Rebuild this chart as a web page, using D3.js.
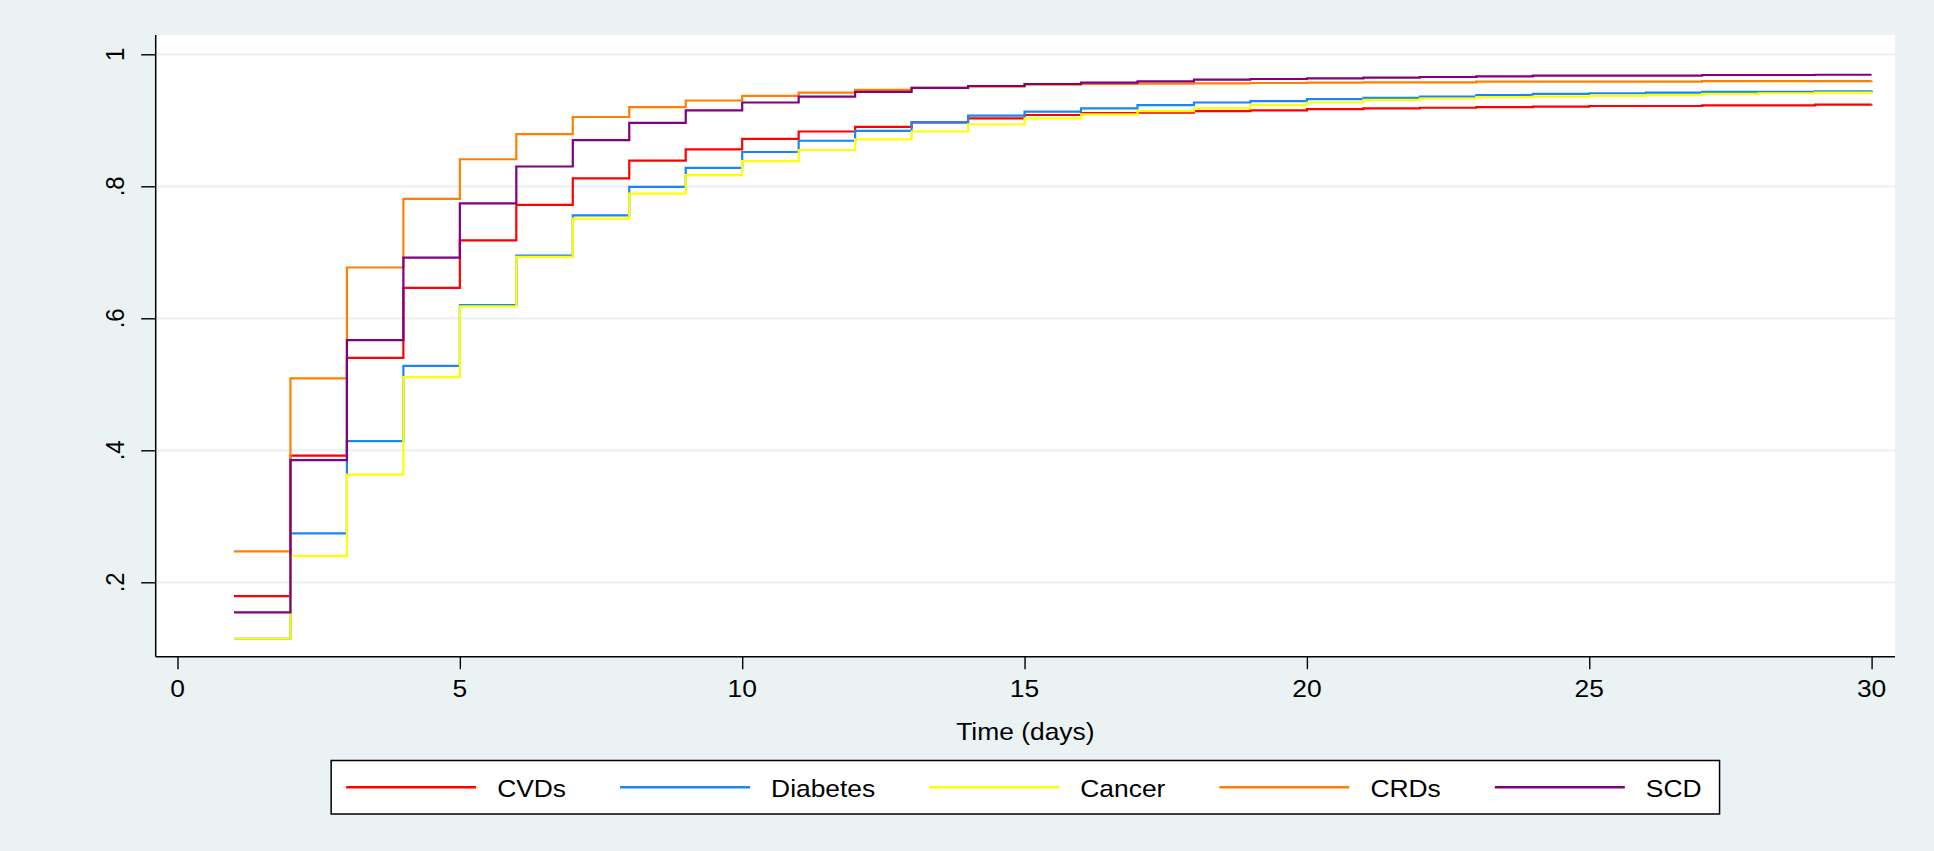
<!DOCTYPE html>
<html>
<head>
<meta charset="utf-8">
<script src="https://cdn.jsdelivr.net/npm/d3@7"></script>
<style>
  body { margin: 0; background: #eaf2f3; }
  text { font-family: "Liberation Sans", Arial, sans-serif; fill: #000; }
</style>
</head>
<body>
<svg id="chart" width="1934" height="851"></svg>
<script>
const days = d3.range(1, 31)
const seriesNames = ['CVDs', 'Diabetes', 'Cancer', 'CRDs', 'SCD']
const seriesColors = ['#ff0000', '#1a86f5', '#ffff00', '#ff8000', '#800080']

const cvds = [.179, .392, .540, .646, .718, .772, .812, .839, .856, .872,
  .883, .890, .897, .903, .908, .911, .9115, .914, .915, .917,
  .918, .919, .920, .9206, .9217, .9217, .9227, .9227, .9237, .924]
const diabetes = [.1145, .274, .414, .528, .620, .695, .756, .799, .828, .852,
  .869, .884, .897, .907, .913, .918, .923, .927, .929, .932,
  .934, .936, .938, .940, .941, .942, .943, .943, .944, .945]
const cancer = [.1145, .240, .363, .511, .618, .693, .751, .789, .817, .838,
  .855, .871, .883, .894, .903, .909, .914, .918, .923, .927,
  .931, .933, .935, .936, .937, .938, .940, .941, .942, .943]
const crds = [.247, .509, .677, .781, .841, .879, .905, .920, .930, .937,
  .942, .946, .949, .951, .954, .955, .9555, .956, .9565, .957,
  .9576, .9576, .9585, .9585, .9585, .9585, .9595, .9595, .9595, .960]
const scd = [.1545, .385, .567, .692, .774, .830, .870, .896, .915, .927,
  .936, .943, .949, .952, .955, .957, .959, .9615, .9626, .9636,
  .9646, .9656, .9667, .9677, .9677, .9677, .9686, .9686, .969, .969]

const xTicks = [0, 5, 10, 15, 20, 25, 30]
const yTicks = [0.2, 0.4, 0.6, 0.8, 1]
const yTickLabels = ['.2', '.4', '.6', '.8', '1']

const allSeries = [cvds, diabetes, cancer, crds, scd]
const stretch = 1.1

const chart = d3.select('#chart')
const plot = { left: 155.7, right: 1895, top: 35, bottom: 656.7 }

const x = d3.scaleLinear().domain([0, 30]).range([177.5, 1871.6])
const y = d3.scaleLinear().domain([0.2, 1]).range([582.3, 54.3])

// background + plot region
chart.append('rect').attr('width', 1934).attr('height', 851).attr('fill', '#eaf2f3')
chart.append('rect')
  .attr('x', plot.left).attr('y', plot.top)
  .attr('width', plot.right - plot.left).attr('height', plot.bottom - plot.top)
  .attr('fill', '#fff')

// grid lines
chart.selectAll('.grid')
  .data(yTicks)
  .enter()
  .append('line')
  .attr('x1', plot.left).attr('x2', plot.right)
  .attr('y1', d => y(d)).attr('y2', d => y(d))
  .attr('stroke', '#eaf2f3')
  .attr('stroke-width', 2.2)

// step lines
const line = d3.line()
  .x((d, i) => x(days[i]))
  .y(d => y(d))
  .curve(d3.curveStepAfter)

chart.selectAll('.series')
  .data(allSeries)
  .enter()
  .append('path')
  .attr('d', d => line(d))
  .attr('fill', 'none')
  .attr('stroke', (d, i) => seriesColors[i])
  .attr('stroke-width', 2.2)

// y axis
const yAxis = d3.axisLeft(y)
  .tickValues(yTicks)
  .tickSize(14.5)
  .tickFormat('')
const gy = chart.append('g')
  .attr('transform', `translate(${plot.left},0)`)
  .call(yAxis)
gy.select('.domain').remove()
gy.selectAll('.tick line').attr('stroke', '#000').attr('stroke-width', 1.4)
chart.append('line')
  .attr('x1', plot.left).attr('x2', plot.left)
  .attr('y1', plot.top).attr('y2', plot.bottom)
  .attr('stroke', '#000').attr('stroke-width', 1.5)

chart.selectAll('.ylab')
  .data(yTicks)
  .enter()
  .append('text')
  .text((d, i) => yTickLabels[i])
  .attr('transform', d => `translate(124,${y(d)}) scale(${stretch},1) rotate(-90)`)
  .attr('text-anchor', 'middle')
  .attr('font-size', 24)

// x axis
const xAxis = d3.axisBottom(x)
  .tickValues(xTicks)
  .tickSize(12.5)
  .tickFormat('')
const gx = chart.append('g')
  .attr('transform', `translate(0,${plot.bottom})`)
  .call(xAxis)
gx.select('.domain').remove()
gx.selectAll('.tick line').attr('stroke', '#000').attr('stroke-width', 1.4)
chart.append('line')
  .attr('x1', plot.left).attr('x2', plot.right)
  .attr('y1', plot.bottom).attr('y2', plot.bottom)
  .attr('stroke', '#000').attr('stroke-width', 1.5)

chart.selectAll('.xlab')
  .data(xTicks)
  .enter()
  .append('text')
  .text(d => d)
  .attr('transform', d => `translate(${x(d)},696.7) scale(${stretch},1)`)
  .attr('text-anchor', 'middle')
  .attr('font-size', 24)

const cx = (plot.left + plot.right) / 2
chart.append('text')
  .text('Time (days)')
  .attr('transform', `translate(${cx},739.5) scale(${stretch},1)`)
  .attr('text-anchor', 'middle')
  .attr('font-size', 24)

// legend
const legend = chart.append('g')
const box = legend.append('rect')
  .attr('y', 760.5).attr('height', 53.5)
  .attr('fill', '#fff').attr('stroke', '#000').attr('stroke-width', 1.5)

const keyLen = 130, keyGap = 21, entryGap = 54, padL = 15, padR = 18
const labels = legend.selectAll('.leg')
  .data(seriesNames)
  .enter()
  .append('text')
  .text(d => d)
  .attr('font-size', 24)
const widths = []
labels.each(function () { widths.push(this.getComputedTextLength() * stretch) })
const total = padL + d3.sum(widths) + seriesNames.length * (keyLen + keyGap) +
  (seriesNames.length - 1) * entryGap + padR
const boxX = cx - total / 2
box.attr('x', boxX).attr('width', total)

let pos = boxX + padL
const starts = widths.map(w => { const s = pos; pos += keyLen + keyGap + w + entryGap; return s })

legend.selectAll('.key')
  .data(seriesNames)
  .enter()
  .append('line')
  .attr('x1', (d, i) => starts[i]).attr('x2', (d, i) => starts[i] + keyLen)
  .attr('y1', 787.3).attr('y2', 787.3)
  .attr('stroke', (d, i) => seriesColors[i])
  .attr('stroke-width', 2.4)

labels.attr('transform', (d, i) => `translate(${starts[i] + keyLen + keyGap},797) scale(${stretch},1)`)
</script>
</body>
</html>
